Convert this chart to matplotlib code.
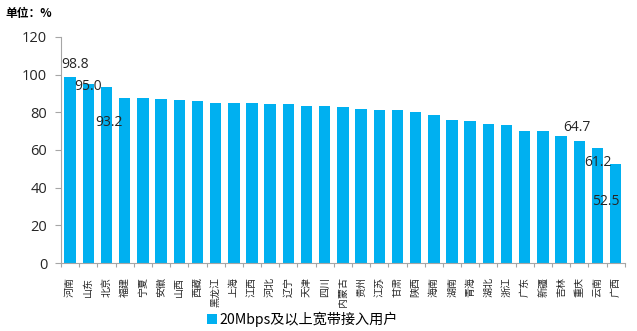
import numpy as np
import matplotlib.pyplot as plt

plt.rcParams['font.family'] = ['Noto Sans CJK SC', 'DejaVu Sans']

provinces = ['河南', '山东', '北京', '福建', '宁夏', '安徽', '山西', '西藏', '黑龙江', '上海',
             '江西', '河北', '辽宁', '天津', '四川', '内蒙古', '贵州', '江苏', '甘肃', '陕西',
             '海南', '湖南', '青海', '湖北', '浙江', '广东', '新疆', '吉林', '重庆', '云南', '广西']
share = [98.8, 95.0, 93.2, 87.7, 87.3, 87.0, 86.4, 85.9, 84.8, 84.8,
         84.8, 84.3, 84.3, 83.2, 83.2, 82.7, 81.7, 81.0, 81.0, 80.1,
         78.5, 75.8, 75.3, 73.9, 73.3, 69.9, 69.9, 67.2, 64.7, 61.2, 52.5]
series_name = '20Mbps及以上宽带接入用户'

# labelled bars: index -> label offset in pixels from the bar top
labelled = {0: (5, 12), 1: (0, -3), 2: (2, -35), 28: (-2, 14), 29: (0, -15), 30: (-10, -37)}

bar_color = '#00B0F0'
axis_color = '#A6A6A6'

fig = plt.figure(figsize=(6.37, 3.31), dpi=100)
ax = fig.add_axes([0.0958, 0.2054, 0.885, 0.6834])

x = np.arange(len(provinces))
ax.bar(x, share, width=0.63, color=bar_color, label=series_name)

for i, (dx, dy) in labelled.items():
    ax.annotate(f'{share[i]:.1f}', xy=(x[i], share[i]), xytext=(dx, dy),
                textcoords='offset pixels', ha='center', va='center',
                fontsize=10, color='#262626', family=['Open Sans', 'DejaVu Sans'])

ax.set_xlim(-0.5, len(provinces) - 0.5)
ax.set_ylim(0, 120)
ax.set_yticks(np.arange(0, 121, 20))
ax.set_yticklabels([str(v) for v in range(0, 121, 20)], fontsize=10.5,
                   family=['Open Sans', 'DejaVu Sans'], color='#262626')

# category ticks sit between bars, names drawn as rotated text
ax.set_xticks(np.arange(-0.5, len(provinces)), minor=False)
ax.set_xticklabels([])
ax.tick_params(axis='x', length=3, color=axis_color, width=0.8)
ax.tick_params(axis='y', length=4, color=axis_color, width=0.8, pad=6)
for i, name in enumerate(provinces):
    ax.text(x[i], -7.5, name, rotation=90, ha='center', va='top',
            fontsize=7.2, color='#262626')

for side in ['top', 'right']:
    ax.spines[side].set_visible(False)
for side in ['left', 'bottom']:
    ax.spines[side].set_color(axis_color)
    ax.spines[side].set_linewidth(0.8)

fig.text(0.008, 0.958, '单位：%', fontsize=8.5, fontweight='bold', ha='left', va='center')

leg = fig.legend(loc='center', bbox_to_anchor=(0.475, 0.036), frameon=False,
                 fontsize=10.2, handlelength=0.7, handleheight=0.7, handletextpad=0.2)

fig.savefig('out.png', dpi=100)
